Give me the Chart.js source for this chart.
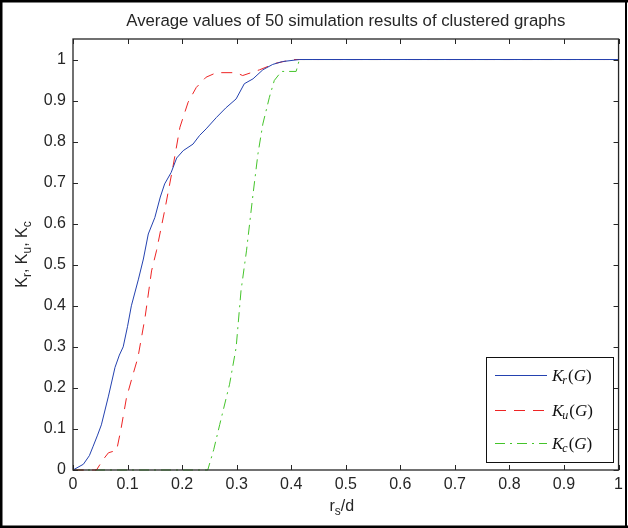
<!DOCTYPE html>
<html>
<head>
<meta charset="utf-8">
<script src="https://cdn.jsdelivr.net/npm/chart.js@4/dist/chart.umd.min.js"></script>
<style>
  html, body { margin: 0; padding: 0; background: #fff; }
  #wrap { width: 628px; height: 528px; position: relative; }
</style>
</head>
<body>
<div id="wrap"><canvas id="chart" width="628" height="528"></canvas></div>
<script>
// values (x = r_s/d)
const krX = [0, 0.019, 0.03, 0.037, 0.045, 0.052, 0.065, 0.077, 0.085, 0.092, 0.1, 0.107, 0.12, 0.129, 0.138, 0.15, 0.16, 0.168, 0.18, 0.19, 0.202, 0.22, 0.232, 0.244, 0.263, 0.28, 0.299, 0.314, 0.33, 0.348, 0.366, 0.384, 0.415, 1];
const krY = [0, 0.014, 0.035, 0.058, 0.085, 0.11, 0.18, 0.25, 0.28, 0.30, 0.35, 0.40, 0.465, 0.514, 0.575, 0.615, 0.665, 0.697, 0.725, 0.76, 0.778, 0.794, 0.815, 0.831, 0.859, 0.882, 0.904, 0.941, 0.953, 0.975, 0.988, 0.995, 1, 1];

const kuX = [0, 0.043, 0.055, 0.065, 0.08, 0.088, 0.098, 0.11, 0.119, 0.132, 0.144, 0.153, 0.168, 0.183, 0.196, 0.211, 0.226, 0.244, 0.263, 0.299, 0.311, 0.342, 0.372, 0.403, 1];
const kuY = [0, 0, 0.025, 0.042, 0.048, 0.1, 0.176, 0.233, 0.274, 0.371, 0.485, 0.534, 0.632, 0.737, 0.835, 0.896, 0.932, 0.957, 0.968, 0.968, 0.961, 0.975, 0.991, 1, 1];

const kcX = [0, 0.247, 0.258, 0.269, 0.287, 0.299, 0.308, 0.318, 0.33, 0.339, 0.348, 0.36, 0.369, 0.382, 0.409, 0.415, 1];
const kcY = [0, 0, 0.05, 0.111, 0.209, 0.298, 0.437, 0.534, 0.672, 0.77, 0.843, 0.908, 0.949, 0.971, 0.971, 1, 1];

const xTicks = [0, 0.1, 0.2, 0.3, 0.4, 0.5, 0.6, 0.7, 0.8, 0.9, 1];
const xTickLabels = ['0', '0.1', '0.2', '0.3', '0.4', '0.5', '0.6', '0.7', '0.8', '0.9', '1'];
const yTicks = [0, 0.1, 0.2, 0.3, 0.4, 0.5, 0.6, 0.7, 0.8, 0.9, 1];
const yTickLabels = ['0', '0.1', '0.2', '0.3', '0.4', '0.5', '0.6', '0.7', '0.8', '0.9', '1'];

const titleText = 'Average values of 50 simulation results of clustered graphs';
const seriesSubs = ['r', 'u', 'c'];

const COLORS = ['#2442b0', '#ee2424', '#44c42a'];
const DASHES = [[], [11, 8], [10, 5, 2, 5]];
const SANS = '"Liberation Sans", Arial, sans-serif';
const SERIF = '"Liberation Serif", "Times New Roman", serif';
const INK = '#262626';

function pts(xs, ys) {
    return xs.map((x, i) => ({ x: x, y: ys[i] }));
}

// draws K_sub(G) legend text
function drawMathLabel(ctx, x, y, sub) {
    ctx.textBaseline = 'alphabetic';
    ctx.textAlign = 'left';
    ctx.font = 'italic 17px ' + SERIF;
    ctx.fillText('K', x, y);
    x += ctx.measureText('K').width - 1;
    ctx.font = 'italic 12px ' + SERIF;
    ctx.fillText(sub, x, y + 3);
    x += ctx.measureText(sub).width + 1;
    ctx.font = '17px ' + SERIF;
    ctx.fillText('(', x, y);
    x += ctx.measureText('(').width;
    ctx.font = 'italic 17px ' + SERIF;
    ctx.fillText('G', x, y);
    x += ctx.measureText('G').width;
    ctx.font = '17px ' + SERIF;
    ctx.fillText(')', x, y);
}

// text made of [string, isSub] pieces, centred on cx
function drawPieces(ctx, pieces, cx, baseY) {
    const big = '16px ' + SANS, small = '12px ' + SANS;
    let total = 0;
    pieces.forEach(p => {
        ctx.font = p[1] ? small : big;
        total += ctx.measureText(p[0]).width;
    });
    let x = cx - total / 2;
    ctx.textAlign = 'left';
    ctx.textBaseline = 'alphabetic';
    pieces.forEach(p => {
        ctx.font = p[1] ? small : big;
        ctx.fillText(p[0], x, baseY + (p[1] ? 4 : 0));
        x += ctx.measureText(p[0]).width;
    });
}

const decorPlugin = {
    id: 'decor',
    beforeDraw(chart) {
        const ctx = chart.ctx;
        ctx.save();
        ctx.fillStyle = '#fff';
        ctx.fillRect(0, 0, chart.width, chart.height);
        ctx.restore();
    },
    afterDraw(chart) {
        const ctx = chart.ctx;
        const a = chart.chartArea;
        const xs = chart.scales.x, ys = chart.scales.y;
        ctx.save();

        // axes box
        ctx.strokeStyle = INK;
        ctx.lineWidth = 1.3;
        ctx.strokeRect(a.left, a.top, a.right - a.left, a.bottom - a.top);

        // inward ticks on all four sides
        ctx.lineWidth = 1;
        ctx.beginPath();
        xs.ticks.forEach(t => {
            const px = Math.round(xs.getPixelForValue(t.value)) + 0.5;
            ctx.moveTo(px, a.bottom); ctx.lineTo(px, a.bottom - 5);
            ctx.moveTo(px, a.top); ctx.lineTo(px, a.top + 5);
        });
        ys.ticks.forEach(t => {
            const py = Math.round(ys.getPixelForValue(t.value)) + 0.5;
            ctx.moveTo(a.left, py); ctx.lineTo(a.left + 5, py);
            ctx.moveTo(a.right, py); ctx.lineTo(a.right - 5, py);
        });
        ctx.stroke();

        // title
        ctx.fillStyle = INK;
        ctx.font = '16.8px ' + SANS;
        ctx.textAlign = 'center';
        ctx.textBaseline = 'alphabetic';
        ctx.fillText(titleText, (a.left + a.right) / 2, 26);

        // x axis label r_s/d
        drawPieces(ctx, [['r', false], ['s', true], ['/d', false]], (a.left + a.right) / 2 - 4, 511);

        // y axis label K_r, K_u, K_c
        ctx.save();
        ctx.translate(27, (a.top + a.bottom) / 2);
        ctx.rotate(-Math.PI / 2);
        drawPieces(ctx, [['K', false], ['r', true], [', K', false], ['u', true], [', K', false], ['c', true]], 0, 0);
        ctx.restore();

        // legend box
        const lx = 486, ly = 357, lw = 127, lh = 105;
        ctx.fillStyle = '#fff';
        ctx.fillRect(lx, ly, lw, lh);
        ctx.strokeStyle = '#111';
        ctx.lineWidth = 1;
        ctx.strokeRect(lx + 0.5, ly + 0.5, lw, lh);
        const rowsY = [375, 410, 443];
        seriesSubs.forEach((s, i) => {
            ctx.strokeStyle = COLORS[i];
            ctx.setLineDash(DASHES[i]);
            ctx.lineWidth = 1;
            ctx.beginPath();
            ctx.moveTo(495, rowsY[i] + 0.5);
            ctx.lineTo(547, rowsY[i] + 0.5);
            ctx.stroke();
            ctx.setLineDash([]);
            ctx.fillStyle = '#111';
            drawMathLabel(ctx, 552, rowsY[i] + 6, s);
        });

        // outer frame of the figure
        ctx.fillStyle = '#000';
        ctx.fillRect(0, 0, chart.width, 2.5);
        ctx.fillRect(0, 0, 2.5, chart.height);
        ctx.fillRect(0, chart.height - 2.5, chart.width, 2.5);
        ctx.fillRect(chart.width - 3, 0, 2, chart.height);
        ctx.restore();
    }
};

new Chart(document.getElementById('chart'), {
    type: 'line',
    data: {
        datasets: [
            { label: 'Kr(G)', data: pts(krX, krY), borderColor: COLORS[0], borderDash: DASHES[0] },
            { label: 'Ku(G)', data: pts(kuX, kuY), borderColor: COLORS[1], borderDash: DASHES[1] },
            { label: 'Kc(G)', data: pts(kcX, kcY), borderColor: COLORS[2], borderDash: DASHES[2] }
        ]
    },
    options: {
        responsive: false,
        animation: false,
        devicePixelRatio: 1,
        layout: { padding: { top: 39, left: 0, right: 8, bottom: 0 } },
        elements: {
            point: { radius: 0 },
            line: { borderWidth: 1, tension: 0, fill: false }
        },
        datasets: { line: { clip: false } },
        plugins: {
            legend: { display: false },
            tooltip: { enabled: false },
            title: { display: false }
        },
        scales: {
            x: {
                type: 'linear',
                min: 0,
                max: 1,
                afterBuildTicks: s => { s.ticks = xTicks.map(v => ({ value: v })); },
                afterFit: s => { s.height = 58; },
                ticks: {
                    callback: (v, i) => xTickLabels[i],
                    color: INK,
                    font: { family: SANS, size: 16 },
                    padding: 5,
                    maxRotation: 0,
                    autoSkip: false
                },
                grid: { display: false, drawTicks: false },
                border: { display: false }
            },
            y: {
                min: 0,
                max: 1.05,
                afterBuildTicks: s => { s.ticks = yTicks.map(v => ({ value: v })); },
                afterFit: s => { s.width = 73; },
                ticks: {
                    callback: (v, i) => yTickLabels[i],
                    color: INK,
                    font: { family: SANS, size: 16 },
                    padding: 7,
                    autoSkip: false
                },
                grid: { display: false, drawTicks: false },
                border: { display: false }
            }
        }
    },
    plugins: [decorPlugin]
});
</script>
</body>
</html>
